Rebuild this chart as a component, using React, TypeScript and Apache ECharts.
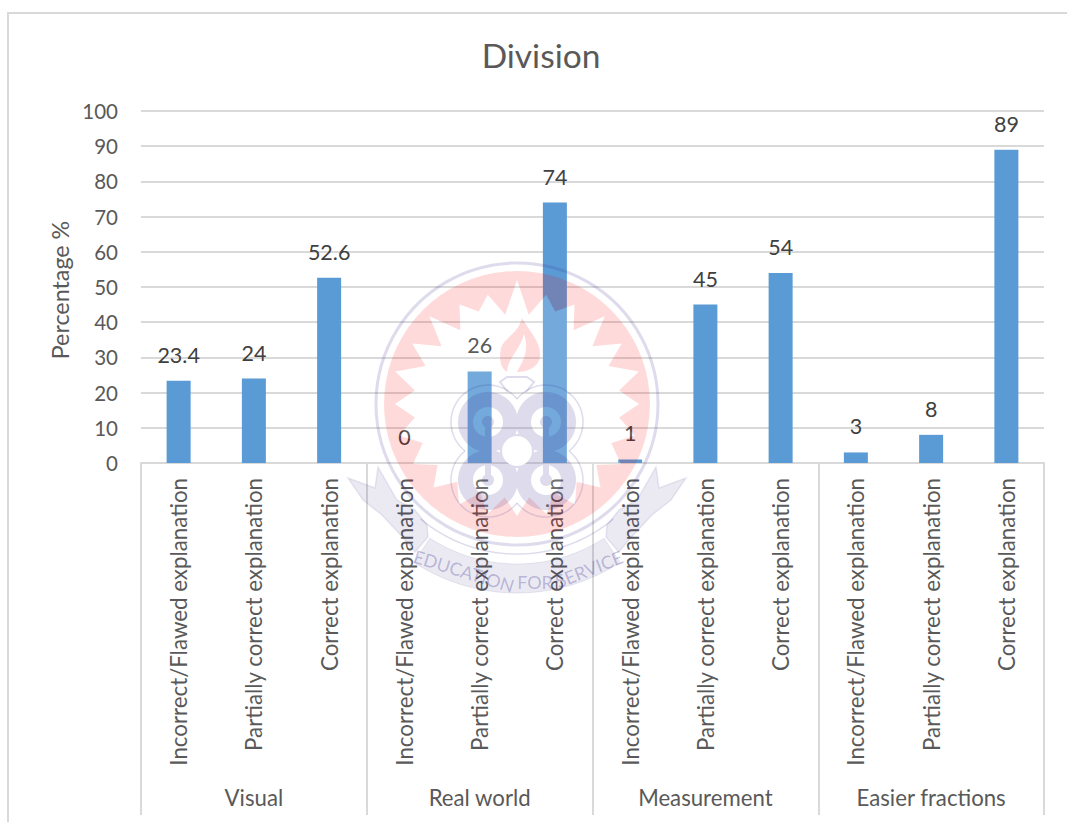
import React, { useEffect, useRef } from "react";
import * as echarts from "echarts";

const title = "Division";
const axisName = "Percentage %";
const groups = ["Visual", "Real world", "Measurement", "Easier fractions"];
const responses = ["Incorrect/Flawed explanation", "Partially correct explanation", "Correct explanation"];
const visualValues = [23.4, 24, 52.6];
const realWorldValues = [0, 26, 74];
const measurementValues = [1, 45, 54];
const easierFractionValues = [3, 8, 89];
const values = [...visualValues, ...realWorldValues, ...measurementValues, ...easierFractionValues];
const categories = groups.flatMap(() => responses);

const FONT = "Lato";
const GREY = "#595959";
const LINE = "#D9D9D9";
const PINK = "rgba(255,0,0,0.145)";
const LAV = "rgba(60,50,140,0.17)";
const LAV_SOFT = "rgba(60,50,140,0.10)";

// Watermark geometry (decoration only)
const CX = 517;
const CY = 404;

function circlePath(cx: number, cy: number, r: number, cw: boolean) {
  const n = 72;
  let d = "";
  for (let i = 0; i < n; i++) {
    const a = ((cw ? i : -i) / n) * Math.PI * 2;
    d += `${i ? "L" : "M"}${(cx + r * Math.cos(a)).toFixed(2)} ${(cy + r * Math.sin(a)).toFixed(2)} `;
  }
  return d + "Z ";
}

function arcPoints(cx: number, cy: number, r: number, startDeg: number, endDeg: number) {
  const n = 48;
  const pts: number[][] = [];
  for (let i = 0; i <= n; i++) {
    const a = ((startDeg + ((endDeg - startDeg) * i) / n) * Math.PI) / 180;
    pts.push([cx + r * Math.cos(a), cy + r * Math.sin(a)]);
  }
  return pts;
}

function ringBand(r0: number, r1: number, a0: number, a1: number) {
  const outer = arcPoints(CX, CY, r1, a0, a1);
  const inner = arcPoints(CX, CY, r0, a0, a1).reverse();
  return "M" + [...outer, ...inner].map((p) => `${p[0].toFixed(2)} ${p[1].toFixed(2)}`).join(" L") + " Z ";
}

const tipRadii = [124, 113, 115, 124, 121, 126, 122, 122, 120, 118, 116, 114, 112];
const valleyRadii = [90, 100, 93, 95, 99, 103, 103, 102, 100, 98, 96, 94];
function starPoints() {
  const pts: number[][] = [];
  const total = 24;
  for (let i = 0; i < total; i++) {
    const side = i <= 12 ? i : 24 - i;
    const a = -Math.PI / 2 + (i / total) * Math.PI * 2;
    pts.push([CX + tipRadii[side] * Math.cos(a), CY + tipRadii[side] * Math.sin(a)]);
    const vs = i < 12 ? i : 23 - i;
    const v = a + Math.PI / 24;
    pts.push([CX + valleyRadii[vs] * Math.cos(v), CY + valleyRadii[vs] * Math.sin(v)]);
  }
  return pts;
}
const star = starPoints();
function starPath(reverse: boolean) {
  const p = reverse ? [...star].reverse() : star;
  return "M" + p.map((q) => `${q[0].toFixed(2)} ${q[1].toFixed(2)}`).join(" L") + " Z ";
}

const knotCentres = [
  [488, 422],
  [546, 422],
  [488, 480],
  [546, 480],
];
// start and end of each lobe's outer outline, in degrees (same order as knotCentres)
const lobeArcs = [
  [128.4, 321.6],
  [218.4, 411.6],
  [38.4, 231.6],
  [308.4, 501.6],
];

function stem(c: number[], down: boolean) {
  const y0 = down ? c[1] : c[1] - 16;
  const y1 = down ? c[1] + 16 : c[1];
  return `M${c[0] - 3} ${y0} L${c[0] + 3} ${y0} L${c[0] + 3} ${y1} L${c[0] - 3} ${y1} Z `;
}

const pinkDiscPath = circlePath(CX, CY, 133, true) + starPath(true);
const flamePath =
  "M522 318 C 530 332, 541 342, 540 356 C 539 367, 528 372, 517 372 C 522 362, 530 352, 524 334 C 520 350, 508 358, 507 372 C 500 368, 499 358, 501 348 C 504 338, 518 334, 522 318 Z";
const knotPath =
  knotCentres.map((c) => circlePath(c[0], c[1], 30, true)).join("") +
  "M500 434 L534 434 L534 468 L500 468 Z " +
  knotCentres.map((c) => circlePath(c[0], c[1], 15, false)).join("") +
  knotCentres.map((c) => circlePath(c[0], c[1], 6, true)).join("") +
  knotCentres.map((c, i) => stem(c, i < 2)).join("");
const bandPath = ringBand(160, 189, 57, 123);

echarts.graphic.registerShape("wmPink", echarts.graphic.extendPath(pinkDiscPath, {}));
echarts.graphic.registerShape("wmStar", echarts.graphic.extendPath(starPath(false), {}));
echarts.graphic.registerShape("wmFlame", echarts.graphic.extendPath(flamePath, {}));
echarts.graphic.registerShape("wmKnot", echarts.graphic.extendPath(knotPath, {}));
echarts.graphic.registerShape("wmBand", echarts.graphic.extendPath(bandPath, {}));

const leftWing = [
  [348, 478],
  [375, 488],
  [378, 467],
  [397, 500],
  [415, 510],
  [427, 525],
  [428, 537],
  [415, 552],
  [407, 542],
  [382, 515],
  [363, 500],
];
const rightWing = leftWing.map((p) => [2 * CX - p[0], p[1]]);

function watermark() {
  const common = { silent: true, z: 100 };
  return [
    { ...common, type: "wmStar", style: { fill: "rgba(255,255,255,0.15)" } },
    { ...common, type: "wmPink", style: { fill: PINK } },
    { ...common, type: "wmFlame", style: { fill: PINK } },
    {
      ...common,
      type: "circle",
      shape: { cx: CX, cy: CY, r: 141 },
      style: { fill: "none", stroke: LAV, lineWidth: 3 },
    },
    {
      ...common,
      type: "polyline",
      shape: { points: arcPoints(CX, CY, 150, 50, 130) },
      style: { fill: "none", stroke: LAV, lineWidth: 1.5 },
    },
    { ...common, type: "wmKnot", style: { fill: LAV } },
    {
      ...common,
      type: "circle",
      shape: { cx: 517, cy: 451, r: 15 },
      style: { fill: "#FFFFFF" },
    },
    ...knotCentres.map((c, i) => ({
      ...common,
      type: "polyline",
      shape: { points: arcPoints(c[0], c[1], 37, lobeArcs[i][0], lobeArcs[i][1]) },
      style: { fill: "none", stroke: LAV, lineWidth: 1.5 },
    })),
    {
      ...common,
      type: "polyline",
      shape: {
        points: [
          [508, 392],
          [500, 382],
          [507, 377],
          [527, 377],
          [534, 382],
          [526, 392],
        ],
      },
      style: { fill: "none", stroke: LAV, lineWidth: 2 },
    },
    { ...common, type: "wmBand", style: { fill: LAV_SOFT, stroke: LAV_SOFT, lineWidth: 1 } },
    {
      ...common,
      type: "polygon",
      shape: { points: leftWing },
      style: { fill: LAV_SOFT, stroke: LAV_SOFT, lineWidth: 1.5 },
    },
    {
      ...common,
      type: "polygon",
      shape: { points: rightWing },
      style: { fill: LAV_SOFT, stroke: LAV_SOFT, lineWidth: 1.5 },
    },
    ...[
      { t: "EDUCATION", x: 464, y: 571, r: -0.3 },
      { t: "FOR", x: 535, y: 582, r: 0 },
      { t: "SERVICE", x: 589, y: 569, r: 0.38 },
    ].map((w) => ({
      ...common,
      type: "text",
      x: w.x,
      y: w.y,
      rotation: w.r,
      style: {
        text: w.t,
        fill: "rgba(60,50,140,0.3)",
        font: `18px ${FONT}`,
        textAlign: "center",
        textVerticalAlign: "middle",
      },
    })),
  ];
}

export default function App() {
  const ref = useRef<HTMLDivElement>(null);
  useEffect(() => {
    document.body.style.margin = "0";
    const chart = echarts.init(ref.current!, undefined, { renderer: "svg" });
    chart.setOption({
      animation: false,
      backgroundColor: "#FFFFFF",
      textStyle: { fontFamily: FONT },
      title: {
        text: title,
        left: 536,
        top: 33,
        textAlign: "center",
        textStyle: { fontFamily: FONT, fontSize: 33.5, fontWeight: "normal", color: GREY },
      },
      grid: { left: 141, top: 111, width: 903, height: 352, containLabel: false },
      xAxis: [
        {
          type: "category",
          data: categories,
          position: "bottom",
          axisLine: { show: true, lineStyle: { color: LINE, width: 2 } },
          axisTick: { show: false },
          axisLabel: {
            rotate: 90,
            interval: 0,
            margin: 15,
            fontFamily: FONT,
            fontSize: 22.3,
            color: GREY,
          },
        },
        {
          type: "category",
          data: groups,
          position: "bottom",
          axisLine: { show: false },
          axisTick: { show: true, length: 352, lineStyle: { color: LINE, width: 2 } },
          axisLabel: {
            interval: 0,
            margin: 323,
            fontFamily: FONT,
            fontSize: 22.2,
            color: GREY,
          },
        },
      ],
      yAxis: {
        type: "value",
        min: 0,
        max: 100,
        interval: 10,
        name: axisName,
        nameLocation: "middle",
        nameGap: 69,
        nameTextStyle: { fontFamily: FONT, fontSize: 23.3, color: GREY, padding: [0, 6, 0, 0] },
        axisLine: { show: false },
        axisTick: { show: false },
        axisLabel: { margin: 23, fontFamily: FONT, fontSize: 20.5, color: GREY },
        splitLine: { lineStyle: { color: LINE, width: 2 } },
      },
      series: [
        {
          type: "bar",
          data: values,
          barWidth: 24,
          itemStyle: { color: "#5B9BD5" },
          label: {
            show: true,
            position: "top",
            distance: 15,
            fontFamily: FONT,
            fontSize: 21.5,
            color: "#404040",
          },
        },
      ],
      graphic: {
        elements: [
          {
            type: "polyline",
            silent: true,
            shape: {
              points: [
                [8, 822],
                [8, 13],
                [1067, 13],
              ],
            },
            style: { fill: "none", stroke: LINE, lineWidth: 2 },
          },
          ...watermark(),
        ],
      },
    });
    return () => chart.dispose();
  }, []);
  return (
    <div
      ref={ref}
      style={{ position: "absolute", left: 0, top: 0, width: 1067, height: 822 }}
    />
  );
}
